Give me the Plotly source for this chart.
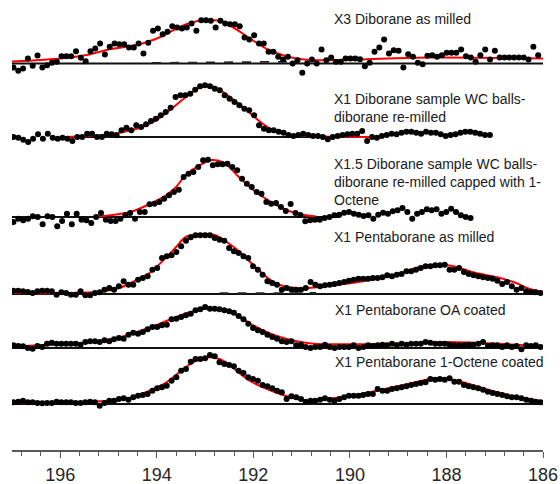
import numpy as np
import plotly.graph_objects as go

# ---------------- data (binding energy, eV; heights above each baseline) ----------------
s1_range = [196.97, 186.1]
s1_h = [-4, -7.3, -5, 5, -2.3, 8, -4, -1.7, 0.7, 1.7,
        7.3, 7.3, 7.3, 12.3, 5.7, 2.3, 12.3, 15, 20, 9,
        16.7, 20, 19.3, 19.3, 16, 16, 20, 10, 20.7, 32.7,
        35, 29.3, 31.7, 37.3, 36, 35, 36, 40, 32.7, 43.3,
        43.3, 42.7, 36, 42.7, 40, 39.3, 39.3, 37.3, 26, 24,
        28.3, 20, 20, 11.7, 11.7, 6.7, 4, 6.7, 0, 3.3,
        -9.3, 0, 4, 0, 14, 3.3, 6, 1.7, 1.7, 5,
        5, 5, 4.3, -2.7, 0.7, 11.7, 16, 24, 10, 13.3,
        12.7, -4, 9.3, 6.7, 0.7, -0.7, 7.7, 8.3, 6.7, 8.3,
        10.7, 10.7, 10.7, 14, 7.3, 6, 1.7, 8.3, 14, 4,
        12.7, 6, 6, 6, 6, 6, 6, 4, 16.7, 8.3]
s1_fit_x = [197.0, 196.4, 195.8, 195.4, 195.0, 194.6, 194.3, 193.9, 193.55, 193.2, 192.95,
            192.75, 192.45, 192.07, 191.7, 191.3, 190.95, 190.6, 189.85, 188.4, 186.0]
s1_fit_h = [2, 3.5, 6, 9, 14, 17, 20, 27, 36, 42, 43.5, 43, 37, 25, 14, 7, 4, 3.3, 4, 6, 5]
s1_dash_x = [194.1, 193.0, 192.0, 191.3]
s1_dash_h = [0.5, 1.0, 1.5, 1.8]
s1_base_x = [197.0, 186.0]

s2_range = [196.97, 187.1]
s2_h = [0, -0.7, -2.7, -5, -1.7, 2.7, -1.7, 3.3, -0.7, -1.7,
        -0.7, -1.7, -4, 0, 0, 3.3, 3.3, 0, 0, 3.3,
        2.7, 1.7, 6.7, 9.3, 6.7, 11.7, 10, 12.7, 16, 18.3,
        21.7, 25, 29.3, 40, 41.7, 41.7, 43.3, 47.3, 50.7, 51.7,
        50.7, 48.3, 46.7, 41.7, 38.3, 35, 31.7, 28.3, 26.7, 21.7,
        11.7, 8.3, 6.7, 6.7,
        5.3, 4.3, 2, 1, 2, 3.3, 2, 1, 1, 0,
        -2.3, 0, 1, 2, 2.7, 3.3, 3.3, 6, -4, 0,
        -0.7, 1, 2, 3.3, 2.7, 4.3, 5.3, 5.3, 4.3, 3.3,
        5.3, 4.3, 4.3, 2.7, 1, 2, 2.7, 4.3, 5.3, 5.3,
        4.3, 3.3, 2, 2]
s2_fit_x = [195.9, 195.4, 195.0, 194.6, 194.3, 194.0, 193.7, 193.45, 193.2, 193.0, 192.8,
            192.6, 192.4, 192.2, 192.0, 191.8, 191.6, 191.4, 191.1, 190.6, 189.6]
s2_fit_h = [0, 1, 2.5, 6, 10, 17, 28, 38, 47, 51, 50, 44, 37, 29, 21, 13, 7, 3.5, 1.5, 0.5, 0]
s2_base_x = [195.85, 189.6]

s3_range = [196.97, 187.5]
s3_h = [-5, -1.7, -3.3, -1.7, 0.7, 0, -7.3, 0.7, 0, -9.3,
        -4, 3.3, -7.3, 3.3, -2.7, -3.3, -6, 0, 4, -2.7,
        -4, -4, -1.7, 1.7, 4, -1.7, 5, 5, 12.7, 13.3,
        15, 18.3, 21.7, 25, 27.3, 40, 43.3, 45, 50, 56.7,
        57.3, 51.7, 52.7, 52.7, 53.3, 50, 46.7, 38.3, 33.3, 30,
        25, 23.3, 15, 13.3, 14,
        10, 6, 13, 4, 2,
        -4.3, -3.3, -2.7, -2.7, -1, 0, 1.7, 2.3, 4.3, 5,
        3.3, 2.3, 1, 1.7, -1.7, 2.3, 4.3, 3.3, 5.7, 6.7,
        9, 5, -1.7, 3.3, 5, 7.7, 6.7, 7.7, 3.3, 5,
        8.3, 5, 1.7, 0, -1]
s3_fit_x = [195.3, 194.8, 194.5, 194.15, 193.8, 193.6, 193.4, 193.1, 192.85, 192.6,
            192.3, 192.0, 191.7, 191.45, 191.2, 190.95, 190.7]
s3_fit_h = [0, 2.7, 5.7, 13, 22, 30, 42, 52, 57, 54, 40, 27, 17, 10, 5, 2, 0.5]
s3_base_x = [197.0, 190.2]

s4_range = [196.97, 186.05]
s4_h = [3.3, 3.3, 2.7, 2, 1, 2.7, 3.3, 3.3, 2.7, -0.7,
        1.7, 1, -0.7, -0.7, 2.7, -1.3, -1.3, 1, 1.7, 4.3,
        6, 4.3, 7.7, 12.7, 9.3, 9.3, 14.3, 16, 17.7, 24.3,
        26, 36, 37.7, 38.7, 42, 47.7, 53.3, 56.7, 58.7, 58.7,
        58.7, 58.7, 56, 54.3, 53.3, 46, 42.7, 41, 37.7, 36,
        27.7, 24.3, 19.3, 12.7, 11, 9.3, 4.3, 6, 4.3, 4.3,
        4.3, 6, 12, 9.3, 7.7, 8.7, 9.3, 10, 11, 12,
        13.3, 14.3, 15.3, 15.3, 15.3, 16, 16, 16.7, 18.7, 17.7,
        19.3, 20, 22.7, 22.7, 24.3, 26, 27.7, 27.7, 28.7, 28.7,
        29.3, 24.3, 24.3, 26, 22, 20, 18.7, 17.7, 16.7, 16,
        15.3, 13.3, 10, 12, 7.7, 4.3, 6, 2.7, 2, 1.7,
        1]
s4_fit_x = [197.0, 195.9, 195.2, 194.8, 194.5, 194.15, 193.8, 193.6, 193.4, 193.1, 192.8,
            192.55, 192.28, 192.0, 191.7, 191.45, 191.03, 190.4, 189.7, 189.0, 188.55,
            188.1, 187.85, 187.45, 186.95, 186.6, 186.27, 186.0]
s4_fit_h = [1, 1, 2.3, 5.7, 12, 21, 37, 47, 57, 60, 59, 52, 42, 29, 16, 9, 5.7, 8.3, 13,
            20, 27, 29, 27.7, 21.7, 16.7, 11.7, 5, 1.7]
s4_dash_x = [192.7, 191.8, 191.0, 190.7]
s4_dash_h = [0.8, 1.2, 1.3, 1.0]
s4_base_x = [197.0, 186.0]

s5_range = [196.97, 186.05]
s5_h = [2.7, 2, 1.7, 0, -0.7, 2, 1, 4.3, 5.3, 4.3,
        4.3, 4.3, 4.3, 4.3, 3.3, 6, 6.7, 6.7, 6, 7.7,
        6.7, 8.7, 10, 9.3, 13.3, 15.3, 14.3, 16, 18.7, 21,
        21, 22.7, 23.3, 28.7, 29.3, 31, 32.7, 34.3, 37.7, 38.7,
        41, 39.3, 39.3, 38.7, 37.7, 36.7, 35.3, 32, 28.7, 24.3,
        20, 17.7, 16, 13.3, 11, 9.3, 6.7, 6, 6.7, 2.7,
        3.3, 1, 0, 1, 1, 3.3, 1, 0, 1, 1,
        1, 2.7, 0, 1, 2.7, 2, 2.7, 3.3, 2.7, 4.3,
        2.7, 4.3, 3.3, 4.3, 4.3, 4.3, 6, 5.3, 4.3, 4.3,
        4.3, 3.3, 2.7, 2.7, 2.7, 3.3, 3.3, 4.3, 6, 2,
        2.7, 2.7, 1, 2.7, 1, 2, -1.3, 2.7, 2, 2.7,
        1]
s5_fit_x = [197.0, 196.2, 195.6, 195.2, 194.75, 194.35, 194.0, 193.65, 193.3, 192.95, 192.6,
            192.35, 192.05, 191.8, 191.45, 191.1, 190.75, 190.05, 188.7, 188.0, 186.95, 186.0]
s5_fit_h = [1.5, 3.3, 5, 6.7, 11, 17, 23, 30, 36, 39.5, 38, 33, 24, 17.5, 11, 6.7, 4.3, 3.7,
            5, 6, 4.3, 1]
s5_base_x = [197.0, 186.0]

s6_range = [196.97, 186.05]
s6_h = [1.7, 2.3, 3.3, 1.7, 1.7, 1, 0.7, 1, 1, 2.3,
        1.7, 1.7, 1.7, 1, 1, 1.7, 2.3, 1.7, -1.7, 1,
        3.3, 3.3, 5, 5.7, 4.3, 6.7, 8.3, 9, 10, 13.3,
        15.7, 16.7, 18.3, 23.3, 26.7, 33.3, 35, 42.3, 45, 45,
        45.7, 49, 47.7, 41.7, 40, 39, 37.7, 33.3, 31, 26.7,
        25, 23.3, 19, 17.7, 15.7, 13.3, 11.7, 5, 7.7, 6.7,
        5, 2.3, 3.3, 3.3, 4.3, 5.7, 4.3, 3.3, 5, 6.7,
        8.3, 8.3, 8.3, 9, 10, 10, 15, 13.3, 13.3, 15,
        15.7, 16.7, 17.7, 19, 20, 21, 21.7, 25, 24.3, 25,
        24.3, 25.7, 22.3, 22.3, 19, 17.7, 16.7, 15.7, 14.3, 12.3,
        11, 10, 9, 7.7, 6.7, 6.7, 5.7, 4.3, 3.3, 2.3,
        1.7]
s6_fit_x = [197.0, 195.5, 195.2, 194.8, 194.5, 194.15, 193.8, 193.5, 193.25, 192.9, 192.6,
            192.34, 192.07, 191.8, 191.45, 191.18, 190.97, 190.6, 190.05, 189.4, 188.7,
            188.3, 188.0, 187.6, 187.2, 186.6, 186.0]
s6_fit_h = [1.7, 1.7, 2.7, 4, 6.7, 13.3, 21.7, 33, 41.7, 46.7, 42.7, 33, 23, 16.7, 10, 6,
            3.7, 4.3, 7.7, 13.7, 21, 25.3, 25.3, 21, 15, 7.7, 2.7]
s6_base_x = [197.0, 186.0]

# vertical stacking offsets of the six spectra
offsets = [386.5, 313, 233, 156, 102, 46]

labels = ["X3 Diborane as milled",
          "X1 Diborane sample WC balls-<br>diborane re-milled",
          "X1.5 Diborane sample WC balls-<br>diborane re-milled capped with 1-<br>Octene",
          "X1 Pentaborane as milled",
          "X1 Pentaborane OA coated",
          "X1 Pentaborane 1-Octene coated"]
label_y = [431, 342, 268, 213, 140, 88]
label_x = [190.37, 190.37, 190.37, 190.37, 190.35, 190.35]

tick_vals = [196, 194, 192, 190, 188, 186]
tick_text = ["196", "194", "192", "190", "188", "186"]

# ---------------- figure ----------------
spectra = [
    (s1_range, s1_h, s1_fit_x, s1_fit_h, s1_base_x, (s1_dash_x, s1_dash_h)),
    (s2_range, s2_h, s2_fit_x, s2_fit_h, s2_base_x, None),
    (s3_range, s3_h, s3_fit_x, s3_fit_h, s3_base_x, None),
    (s4_range, s4_h, s4_fit_x, s4_fit_h, s4_base_x, (s4_dash_x, s4_dash_h)),
    (s5_range, s5_h, s5_fit_x, s5_fit_h, s5_base_x, None),
    (s6_range, s6_h, s6_fit_x, s6_fit_h, s6_base_x, None),
]

fig = go.Figure()
for (rng, h, fx, fh, bx, dash), off in zip(spectra, offsets):
    xs = np.linspace(rng[0], rng[1], len(h))
    fig.add_trace(go.Scatter(x=bx, y=[off, off], mode="lines",
                             line=dict(color="#111111", width=2), hoverinfo="skip"))
    if dash is not None:
        fig.add_trace(go.Scatter(x=dash[0], y=[off + v for v in dash[1]], mode="lines",
                                 line=dict(color="#222222", width=1.8, dash="dash"),
                                 hoverinfo="skip"))
    fig.add_trace(go.Scatter(x=fx, y=[off + v for v in fh], mode="lines",
                             line=dict(color="#ff0000", width=2, shape="spline"),
                             hoverinfo="skip"))
    fig.add_trace(go.Scatter(x=xs, y=[off + v for v in h], mode="markers",
                             marker=dict(color="#000000", size=6)))

for txt, lx, ly in zip(labels, label_x, label_y):
    fig.add_annotation(x=lx, y=ly, xref="x", yref="y", text=txt, showarrow=False,
                       xanchor="left", yanchor="middle", align="left",
                       font=dict(family="Liberation Sans, Arial, sans-serif", size=14,
                                 color="#1a1a1a"))

fig.update_layout(
    width=560, height=484,
    margin=dict(l=12, r=17, t=0, b=34, autoexpand=False),
    paper_bgcolor="white", plot_bgcolor="white",
    showlegend=False,
    xaxis=dict(range=[197, 186], showgrid=False, zeroline=False, automargin=False,
               showline=True, linecolor="#595959", linewidth=1.5,
               ticks="outside", ticklen=6, tickwidth=1.3, tickcolor="#595959",
               tickvals=tick_vals, ticktext=tick_text, ticklabelstandoff=2,
               tickfont=dict(family="Liberation Sans, Arial, sans-serif", size=18,
                             color="#262626"),
               minor=dict(dtick=0.4, tick0=186, ticks="outside", ticklen=4,
                          tickwidth=1.3, tickcolor="#595959"),
               fixedrange=True),
    yaxis=dict(range=[0, 450], visible=False, showgrid=False, zeroline=False,
               automargin=False, fixedrange=True),
)

# remove the browser's default 8px body margin so the figure fills the window exactly
fig.write_html("out.html",
               config={"displayModeBar": False},
               post_script="document.body.style.margin='0';"
                           "document.body.style.overflow='hidden';")
